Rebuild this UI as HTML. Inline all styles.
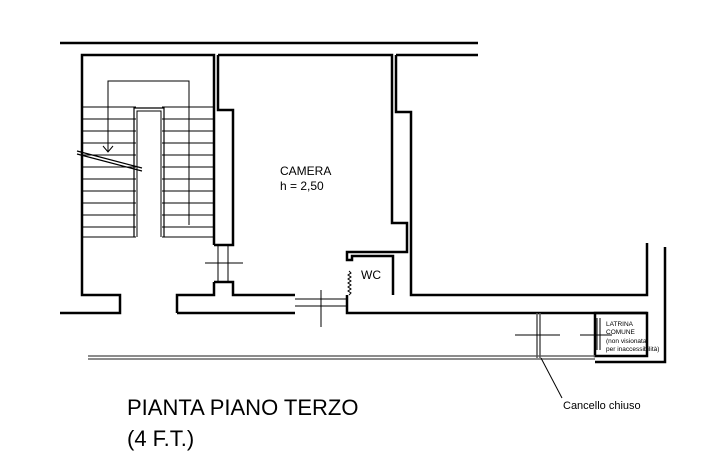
<!DOCTYPE html><html><head><style>body{margin:0;background:#fff}svg{display:block}</style></head><body>
<svg width="714" height="474" viewBox="0 0 714 474" xmlns="http://www.w3.org/2000/svg" font-family="Liberation Sans, Arial, sans-serif">
<g fill="none" stroke="#000" stroke-width="2.5" stroke-linejoin="miter">
<line x1="60" y1="43" x2="478" y2="43"/>
<line x1="396" y1="55" x2="478" y2="55"/>
<!-- stair block -->
<path d="M214 245 V55 H82 V295 H120 V313 H60"/>
<!-- camera -->
<path d="M218 55 V110 H233 V245 H214"/>
<path d="M218 55 H392 V223 H407 V252 H347 V260 H352 V256 H393 V295"/>
<path d="M214 282 H233 V295 H295"/>
<path d="M177 313 V295 H214 V282"/>
<line x1="177" y1="313" x2="295" y2="313"/>
<path d="M347 295 V313 H647"/>
<!-- neighbor -->
<path d="M396 55 V112 H411 V295 H647 V243"/>
<path d="M665 247 V362 H595"/>
<rect x="595" y="313" width="52" height="43"/>
</g>
<g fill="none" stroke="#000" stroke-width="1">
<!-- stairs -->
<path d="M82 107 H136 M162 107 H214"/>
<g stroke-width="0.9">
<path d="M82 119H136M82 131H136M82 143H136M82 155H136M82 167H136M82 179H136M82 191H136M82 203H136M82 215H136M82 227H136M82 237H136"/>
<path d="M162 119H214M162 131H214M162 143H214M162 155H214M162 167H214M162 179H214M162 191H214M162 203H214M162 215H214M162 227H214M162 237H214"/>
</g>
<path d="M134 237 V108 H164 V237" stroke-width="1.2"/>
<path d="M137 237 V111 H161 V237" stroke-width="1"/>
<path d="M108 152 V81 H189 V225"/>
<path d="M103 146 L108 152 L113 146"/>
<path d="M77 151 L142 168 M77 154 L142 171" stroke-width="1.2"/>
<!-- doors -->
<path d="M218 245 V282 M228 245 V282"/>
<line x1="205" y1="263" x2="243" y2="263"/>
<path d="M295 299 H347 M295 306 H347"/>
<line x1="321" y1="290" x2="321" y2="327"/>
<path d="M349 295 l2 -2 l-3 -2 l3 -2 l-3 -2 l3 -2 l-3 -2 l3 -2 l-3 -2 l3 -2 l-3 -2 l3 -2 l-2 -2"/>
<!-- corridor -->
<path d="M88 356 H595 M88 359 H595" stroke="#666" stroke-width="1.5"/>
<path d="M537 313 V358 M540 313 V358" stroke="#555" stroke-width="1.5"/>
<line x1="515" y1="335" x2="560" y2="335"/>
<line x1="580" y1="335" x2="612" y2="335"/>
<path d="M597 318 V350 M600 318 V350"/>
<line x1="541" y1="358" x2="562" y2="398"/>
</g>
<g fill="#000">
<text x="280" y="175" font-size="12">CAMERA</text>
<text x="280" y="190" font-size="12">h = 2,50</text>
<text x="361" y="279" font-size="12">WC</text>
<text x="606" y="326" font-size="6.5">LATRINA</text>
<text x="606" y="334" font-size="6.5">COMUNE</text>
<text x="606" y="343" font-size="6.5">(non visionata</text>
<text x="606" y="351" font-size="6.5">per inaccessibilità)</text>
<text x="563" y="409" font-size="11">Cancello chiuso</text>
<text x="127" y="415" font-size="22">PIANTA PIANO TERZO</text>
<text x="127" y="446" font-size="22">(4 F.T.)</text>
</g>
</svg>
</body></html>
